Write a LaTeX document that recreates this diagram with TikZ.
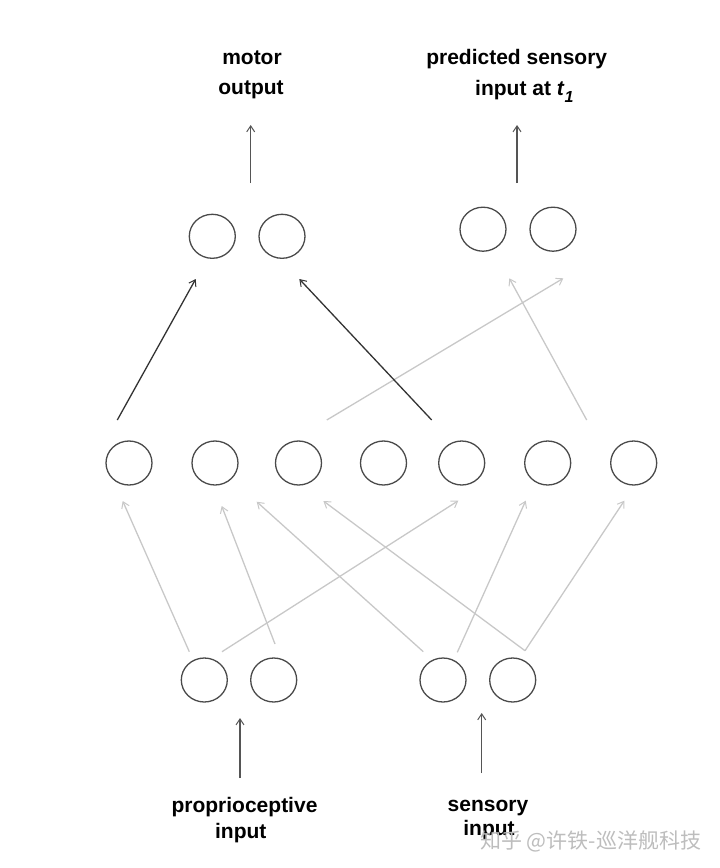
\documentclass[tikz,border=0pt]{standalone}
\usepackage{fontspec}
\setmainfont{Liberation Sans}
\newfontfamily\cjkfont{Noto Sans CJK SC}
\usetikzlibrary{shapes.geometric,arrows.meta}
\definecolor{ringc}{HTML}{4A4A4A}
\definecolor{darkc}{HTML}{333333}
\definecolor{lightc}{HTML}{C8C8C8}
\definecolor{vertc}{HTML}{555555}
\definecolor{wmark}{HTML}{BDBDBD}
\tikzset{
  neuron/.style={ellipse, draw=ringc, line width=1.3pt, minimum width=46pt, minimum height=44pt, inner sep=0pt},
  lbl/.style={anchor=base, inner sep=0pt, font=\fontsize{21}{21}\selectfont\bfseries},
  tipx/.style={-{Straight Barb[length=6pt,width=8pt,line width=1pt]}},
  darkarrow/.style={tipx, draw=darkc, line width=1.3pt},
  lightarrow/.style={tipx, draw=lightc, line width=1.3pt},
  vertarrow/.style={tipx, draw=vertc, line width=1.1pt},
}
\begin{document}
\begin{tikzpicture}[x=1pt,y=-1pt]
\useasboundingbox (0,0) rectangle (720,868);
% neurons
\node[neuron] (o1) at (212.3,236.3) {};
\node[neuron] (o2) at (282,236.3) {};
\node[neuron] (p1) at (483,229.2) {};
\node[neuron] (p2) at (553,229.2) {};
\node[neuron] (h1) at (129,463) {};
\node[neuron] (h2) at (215,463) {};
\node[neuron] (h3) at (298.5,463) {};
\node[neuron] (h4) at (383.5,463) {};
\node[neuron] (h5) at (461.7,463) {};
\node[neuron] (h6) at (547.7,463) {};
\node[neuron] (h7) at (633.7,463) {};
\node[neuron] (s1) at (204.3,680) {};
\node[neuron] (s2) at (273.7,680) {};
\node[neuron] (s3) at (443,680) {};
\node[neuron] (s4) at (512.7,680) {};
% labels
\node[lbl] (mot1) at (252,64) {motor};
\node[lbl] (mot2) at (251,94) {output};
\node[lbl] (pre1) at (516.7,64) {predicted sensory};
\node[lbl, anchor=base west] (pre2) at (475,95) {input at \textit{t}\raisebox{-7pt}{\fontsize{16}{16}\selectfont\textit{1}}};
\node[lbl] (pro1) at (244.5,812.7) {proprioceptive};
\node[lbl] (pro2) at (240.8,838) {input};
\node[lbl] (sen1) at (488,811) {sensory};
\node[lbl] (sen2) at (489,835) {input};
\node[anchor=base west, inner sep=0pt, text=wmark, font=\fontsize{21}{21}\cjkfont] (wm) at (480,848) {知乎 @许铁-巡洋舰科技};
% connector end points
\coordinate (motA) at (250.7,183);  \coordinate (motB) at (250.7,125);
\coordinate (preA) at (517,183);    \coordinate (preB) at (517,125);
\coordinate (proA) at (240,778);    \coordinate (proB) at (240,718);
\coordinate (senA) at (481.7,773);  \coordinate (senB) at (481.7,713);
% hidden -> output
\coordinate (d1a) at (117.3,420); \coordinate (d1b) at (195.7,279);
\coordinate (d2a) at (431.7,420); \coordinate (d2b) at (299.3,279);
\coordinate (l1a) at (326.8,420); \coordinate (l1b) at (563.3,278.3);
\coordinate (l2a) at (586.7,420); \coordinate (l2b) at (509.3,278.3);
% input -> hidden
\coordinate (b1a) at (189.3,651.7); \coordinate (b1b) at (122.7,501);
\coordinate (b2a) at (275,644);     \coordinate (b2b) at (221.7,506);
\coordinate (b3a) at (222,651.7);   \coordinate (b3b) at (458.3,500.7);
\coordinate (b4a) at (423.3,651.7); \coordinate (b4b) at (256.7,501.7);
\coordinate (b5a) at (457.3,652.3); \coordinate (b5b) at (525.7,500.7);
\coordinate (b6a) at (525,650.7);   \coordinate (b6b) at (624.3,500.7);
\coordinate (b7b) at (323.4,501);
% vertical arrows
\draw[vertarrow] (motA) -- (motB);
\draw[vertarrow] (preA) -- (preB);
\draw[vertarrow] (proA) -- (proB);
\draw[vertarrow] (senA) -- (senB);
% light connectors
\draw[lightarrow] (l1a) -- (l1b);
\draw[lightarrow] (l2a) -- (l2b);
\draw[lightarrow] (b1a) -- (b1b);
\draw[lightarrow] (b2a) -- (b2b);
\draw[lightarrow] (b3a) -- (b3b);
\draw[lightarrow] (b4a) -- (b4b);
\draw[lightarrow] (b5a) -- (b5b);
\draw[lightarrow] (b6a) -- (b6b);
\draw[lightarrow] (b6a) -- (b7b);
% dark connectors
\draw[darkarrow] (d1a) -- (d1b);
\draw[darkarrow] (d2a) -- (d2b);
\end{tikzpicture}
\end{document}
